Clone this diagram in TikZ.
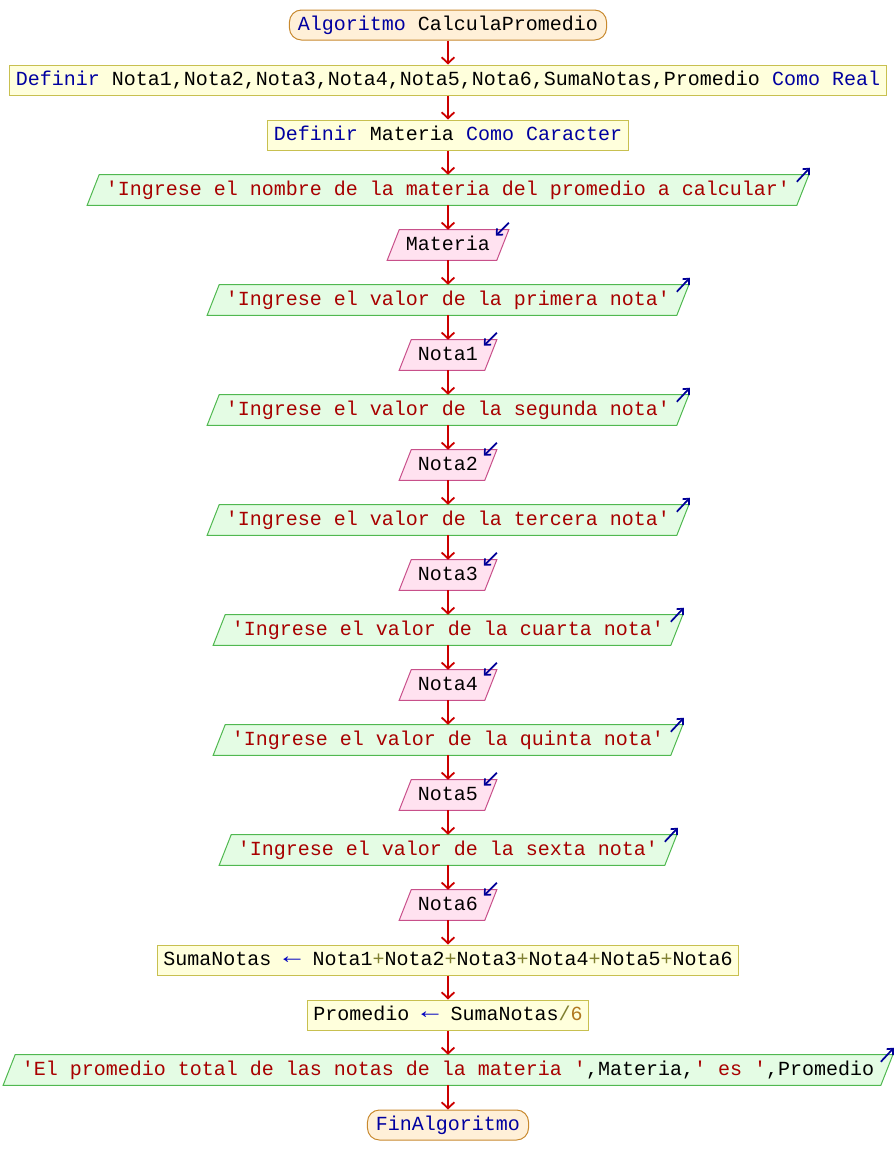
\documentclass[tikz,border=0pt]{standalone}
\usepackage{fontspec}
\setmonofont{Liberation Mono}
\usetikzlibrary{arrows.meta,calc,backgrounds}
\definecolor{kwc}{HTML}{0000A0}
\definecolor{strc}{HTML}{A80000}
\definecolor{opc}{HTML}{808030}
\definecolor{numc}{HTML}{B07820}
\definecolor{asgc}{HTML}{0000C0}
\definecolor{termfill}{HTML}{FFF0D8}
\definecolor{termdraw}{HTML}{C8892E}
\definecolor{rectfill}{HTML}{FFFFDC}
\definecolor{rectdraw}{HTML}{C8C050}
\definecolor{outfill}{HTML}{E4FCE4}
\definecolor{outdraw}{HTML}{50B850}
\definecolor{infill}{HTML}{FFE2F0}
\definecolor{indraw}{HTML}{C8508A}
\definecolor{flowred}{HTML}{CC0000}
\definecolor{iconc}{HTML}{000098}
\newcommand\kw[1]{\textcolor{kwc}{#1}}
\newcommand\str[1]{\textcolor{strc}{#1}}
\newcommand\op[1]{\textcolor{opc}{#1}}
\newcommand\nm[1]{\textcolor{numc}{#1}}
\newcommand\asg{\textcolor{asgc}{\raisebox{1pt}{\scalebox{1.45}[1.15]{←}}}}
\tikzset{
  base/.style={minimum height=22.5pt, inner ysep=0pt, text height=11pt, text depth=3.5pt, anchor=center},
  term/.style={base, draw=termdraw, fill=termfill, line width=0.75pt, rounded corners=9pt, inner xsep=6.4pt},
  rectbox/.style={base, draw=rectdraw, fill=rectfill, line width=0.75pt, inner xsep=4.6pt},
  ptext/.style={base, inner xsep=9.4pt},
  outshape/.style={draw=outdraw, fill=outfill, line width=0.75pt},
  inshape/.style={draw=indraw, fill=infill, line width=0.75pt},
  icon/.style={draw=iconc, line width=1.3pt, -{Straight Barb[length=3.5pt,width=6.5pt]}},
  flow/.style={draw=flowred, line width=1.35pt, -{Straight Barb[length=4.5pt,width=9.5pt]}}
}
\newcommand\outnode[3]{%
  \node[ptext] (#1) at (448,#2) {#3};
  \begin{scope}[on background layer]
    \draw[outshape] ($(#1.south west)+(-6,0)$) -- ($(#1.north west)+(6,0)$) -- ($(#1.north east)+(6,0)$) -- ($(#1.south east)+(-6,0)$) -- cycle;
  \end{scope}
  \draw[icon] ($(#1.north east)+(-6,7)$) -- ($(#1.north east)+(7,-7)$);
}
\newcommand\innode[3]{%
  \node[ptext] (#1) at (448,#2) {#3};
  \begin{scope}[on background layer]
    \draw[inshape] ($(#1.south west)+(-6,0)$) -- ($(#1.north west)+(6,0)$) -- ($(#1.north east)+(6,0)$) -- ($(#1.south east)+(-6,0)$) -- cycle;
  \end{scope}
  \draw[icon] ($(#1.north east)+(6,-7)$) -- ($(#1.north east)+(-7,6)$);
}
\begin{document}
\begin{tikzpicture}[x=0.75pt,y=-0.75pt,font=\ttfamily\fontsize{15pt}{18pt}\selectfont]
\useasboundingbox (0,0) rectangle (896,1175);
\node[term] (alg) at (448,25) {\kw{Algoritmo} CalculaPromedio};
\node[rectbox] (def1) at (448,80) {\kw{Definir} Nota1,Nota2,Nota3,Nota4,Nota5,Nota6,SumaNotas,Promedio \kw{Como Real}};
\node[rectbox] (def2) at (448,135) {\kw{Definir} Materia \kw{Como Caracter}};
\outnode{w0}{190}{\str{'Ingrese el nombre de la materia del promedio a calcular'}}
\innode{r0}{245}{Materia}
\outnode{w1}{300}{\str{'Ingrese el valor de la primera nota'}}
\innode{r1}{355}{Nota1}
\outnode{w2}{410}{\str{'Ingrese el valor de la segunda nota'}}
\innode{r2}{465}{Nota2}
\outnode{w3}{520}{\str{'Ingrese el valor de la tercera nota'}}
\innode{r3}{575}{Nota3}
\outnode{w4}{630}{\str{'Ingrese el valor de la cuarta nota'}}
\innode{r4}{685}{Nota4}
\outnode{w5}{740}{\str{'Ingrese el valor de la quinta nota'}}
\innode{r5}{795}{Nota5}
\outnode{w6}{850}{\str{'Ingrese el valor de la sexta nota'}}
\innode{r6}{905}{Nota6}
\node[rectbox] (sum) at (448,960) {SumaNotas \asg{} Nota1\op{+}Nota2\op{+}Nota3\op{+}Nota4\op{+}Nota5\op{+}Nota6};
\node[rectbox] (prom) at (448,1015) {Promedio \asg{} SumaNotas\op{/}\nm{6}};
\outnode{wf}{1070}{\str{'El promedio total de las notas de la materia '},Materia,\str{' es '},Promedio}
\node[term] (fin) at (448,1125) {\kw{FinAlgoritmo}};
\foreach \a/\b in {alg/def1,def1/def2,def2/w0,w0/r0,r0/w1,w1/r1,r1/w2,w2/r2,r2/w3,w3/r3,r3/w4,w4/r4,r4/w5,w5/r5,r5/w6,w6/r6,r6/sum,sum/prom,prom/wf,wf/fin}
  \draw[flow] (\a.south) -- (\b.north);
\end{tikzpicture}
\end{document}
